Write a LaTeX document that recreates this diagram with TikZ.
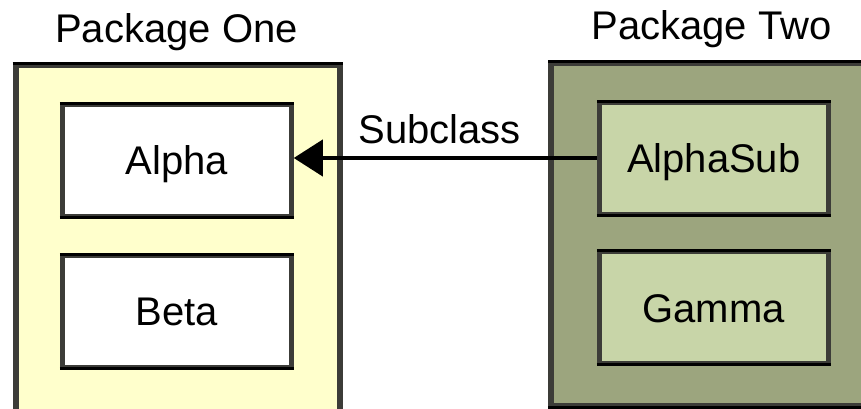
\documentclass[tikz,border=0pt]{standalone}
\usepackage{fontspec}
\setmainfont{Liberation Sans}
\usetikzlibrary{arrows.meta}
\definecolor{pkgone}{HTML}{FFFFCC}
\definecolor{pkgtwo}{HTML}{9CA57E}
\definecolor{clsgreen}{HTML}{C8D5A8}
\definecolor{edgegray}{HTML}{3C3C38}
\begin{document}
\begin{tikzpicture}[x=1pt,y=1pt,
  pkgbox/.style={draw=edgegray, line width=6pt, inner sep=0pt},
  clsbox/.style={draw=edgegray, line width=5pt, inner sep=0pt,
    minimum width=229pt, minimum height=112pt,
    font=\fontsize{40}{48}\selectfont, text height=28.6pt, text depth=0pt},
  lbl/.style={font=\fontsize{40}{48}\selectfont, inner sep=0pt, anchor=base},
  topline/.style={black, line width=3pt},
  ]
\useasboundingbox (0,0) rectangle (861,408);
\clip (0,0) rectangle (861,408);
\fill[white] (0,0) rectangle (861,408);

% packages
\node[pkgbox, fill=pkgone, minimum width=324pt, minimum height=363pt] (one) at (177.5,161.5) {};
\node[pkgbox, fill=pkgtwo, minimum width=360pt, minimum height=343pt] (two) at (731,173.5) {};

% classes
\node[clsbox, fill=white] (alpha) at (176.75,248) {Alpha};
\node[clsbox, fill=white] (beta) at (176.75,97) {Beta};
\node[clsbox, fill=clsgreen] (alphasub) at (713.75,250) {AlphaSub};
\node[clsbox, fill=clsgreen] (gamma) at (713.75,100.25) {Gamma};

% darker top and bottom edges
\foreach \n in {one,two,alpha,beta,alphasub,gamma}{
  \draw[topline] ([yshift=-1.5pt]\n.north west) -- ([yshift=-1.5pt]\n.north east);
  \draw[topline] ([yshift=1.5pt]\n.south west) -- ([yshift=1.5pt]\n.south east);
}

% titles
\node[lbl] (onetitle) at (176.5,366) {Package One};
\node[lbl] (twotitle) at (711.5,368) {Package Two};

% connector
\draw[line width=4pt, -{Triangle[length=29pt,width=36pt]}] (alphasub.west) -- (alphasub.west -| alpha.east);
\node[lbl] (sub) at (439.5,265) {Subclass};
\end{tikzpicture}
\end{document}
